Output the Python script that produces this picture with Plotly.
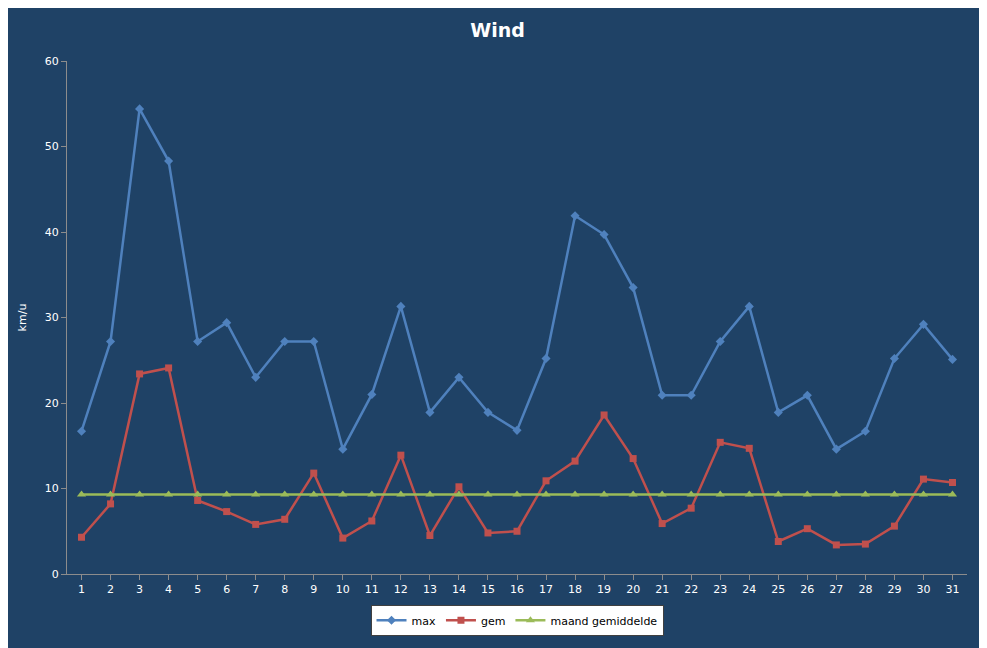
import plotly.graph_objects as go

days = [str(d) for d in range(1, 32)]
wind_max = [16.7, 27.2, 54.4, 48.3, 27.2, 29.4, 23.0, 27.2, 27.2, 14.6, 21.0, 31.3, 18.9, 23.0, 18.9, 16.8,
            25.2, 41.9, 39.7, 33.5, 20.9, 20.9, 27.2, 31.3, 18.9, 20.9, 14.6, 16.7, 25.2, 29.2, 25.1]
wind_gem = [4.3, 8.2, 23.4, 24.1, 8.6, 7.3, 5.8, 6.4, 11.8, 4.2, 6.2, 13.9, 4.5, 10.2, 4.8, 5.0,
            10.9, 13.2, 18.6, 13.5, 5.9, 7.7, 15.4, 14.7, 3.8, 5.3, 3.4, 3.5, 5.6, 11.1, 10.7]
maand_gem = [9.3] * 31

bg = "#1F4266"
fig = go.Figure()
fig.add_trace(go.Scatter(x=days, y=wind_max, name="max", mode="lines+markers",
                         line=dict(color="#4F81BD", width=2.5),
                         marker=dict(symbol="diamond", size=7, color="#4F81BD")))
fig.add_trace(go.Scatter(x=days, y=wind_gem, name="gem", mode="lines+markers",
                         line=dict(color="#C0504D", width=2.5),
                         marker=dict(symbol="square", size=7, color="#C0504D")))
fig.add_trace(go.Scatter(x=days, y=maand_gem, name="maand gemiddelde", mode="lines+markers",
                         line=dict(color="#9BBB59", width=2.5),
                         marker=dict(symbol="triangle-up", size=8, color="#9BBB59")))

fig.update_layout(
    width=979, height=640,
    paper_bgcolor=bg, plot_bgcolor=bg,
    margin=dict(l=59, r=20, t=53, b=70),
    title=dict(text="<b>Wind</b>", x=0.5, y=0.965, xanchor="center", yanchor="middle",
               font=dict(family="DejaVu Sans", size=19, color="white")),
    font=dict(family="DejaVu Sans", size=11, color="white"),
    showlegend=True,
    legend=dict(orientation="h", x=0.5, xanchor="center", y=-0.06, yanchor="top",
                bgcolor="white", bordercolor="#404040", borderwidth=1,
                font=dict(color="black", size=11)),
)
fig.update_xaxes(type="category", range=[-0.5, 30.5], showgrid=False,
                 showline=True, linecolor="#8C8C8C", ticks="outside", tickcolor="#8C8C8C",
                 tickfont=dict(color="white", size=11))
fig.update_yaxes(range=[0, 60], dtick=10, showgrid=False, zeroline=False,
                 showline=True, linecolor="#8C8C8C", ticks="outside", tickcolor="#8C8C8C",
                 title=dict(text="km/u", font=dict(size=11, color="white")),
                 tickfont=dict(color="white", size=11))
fig.write_html("out.html")
